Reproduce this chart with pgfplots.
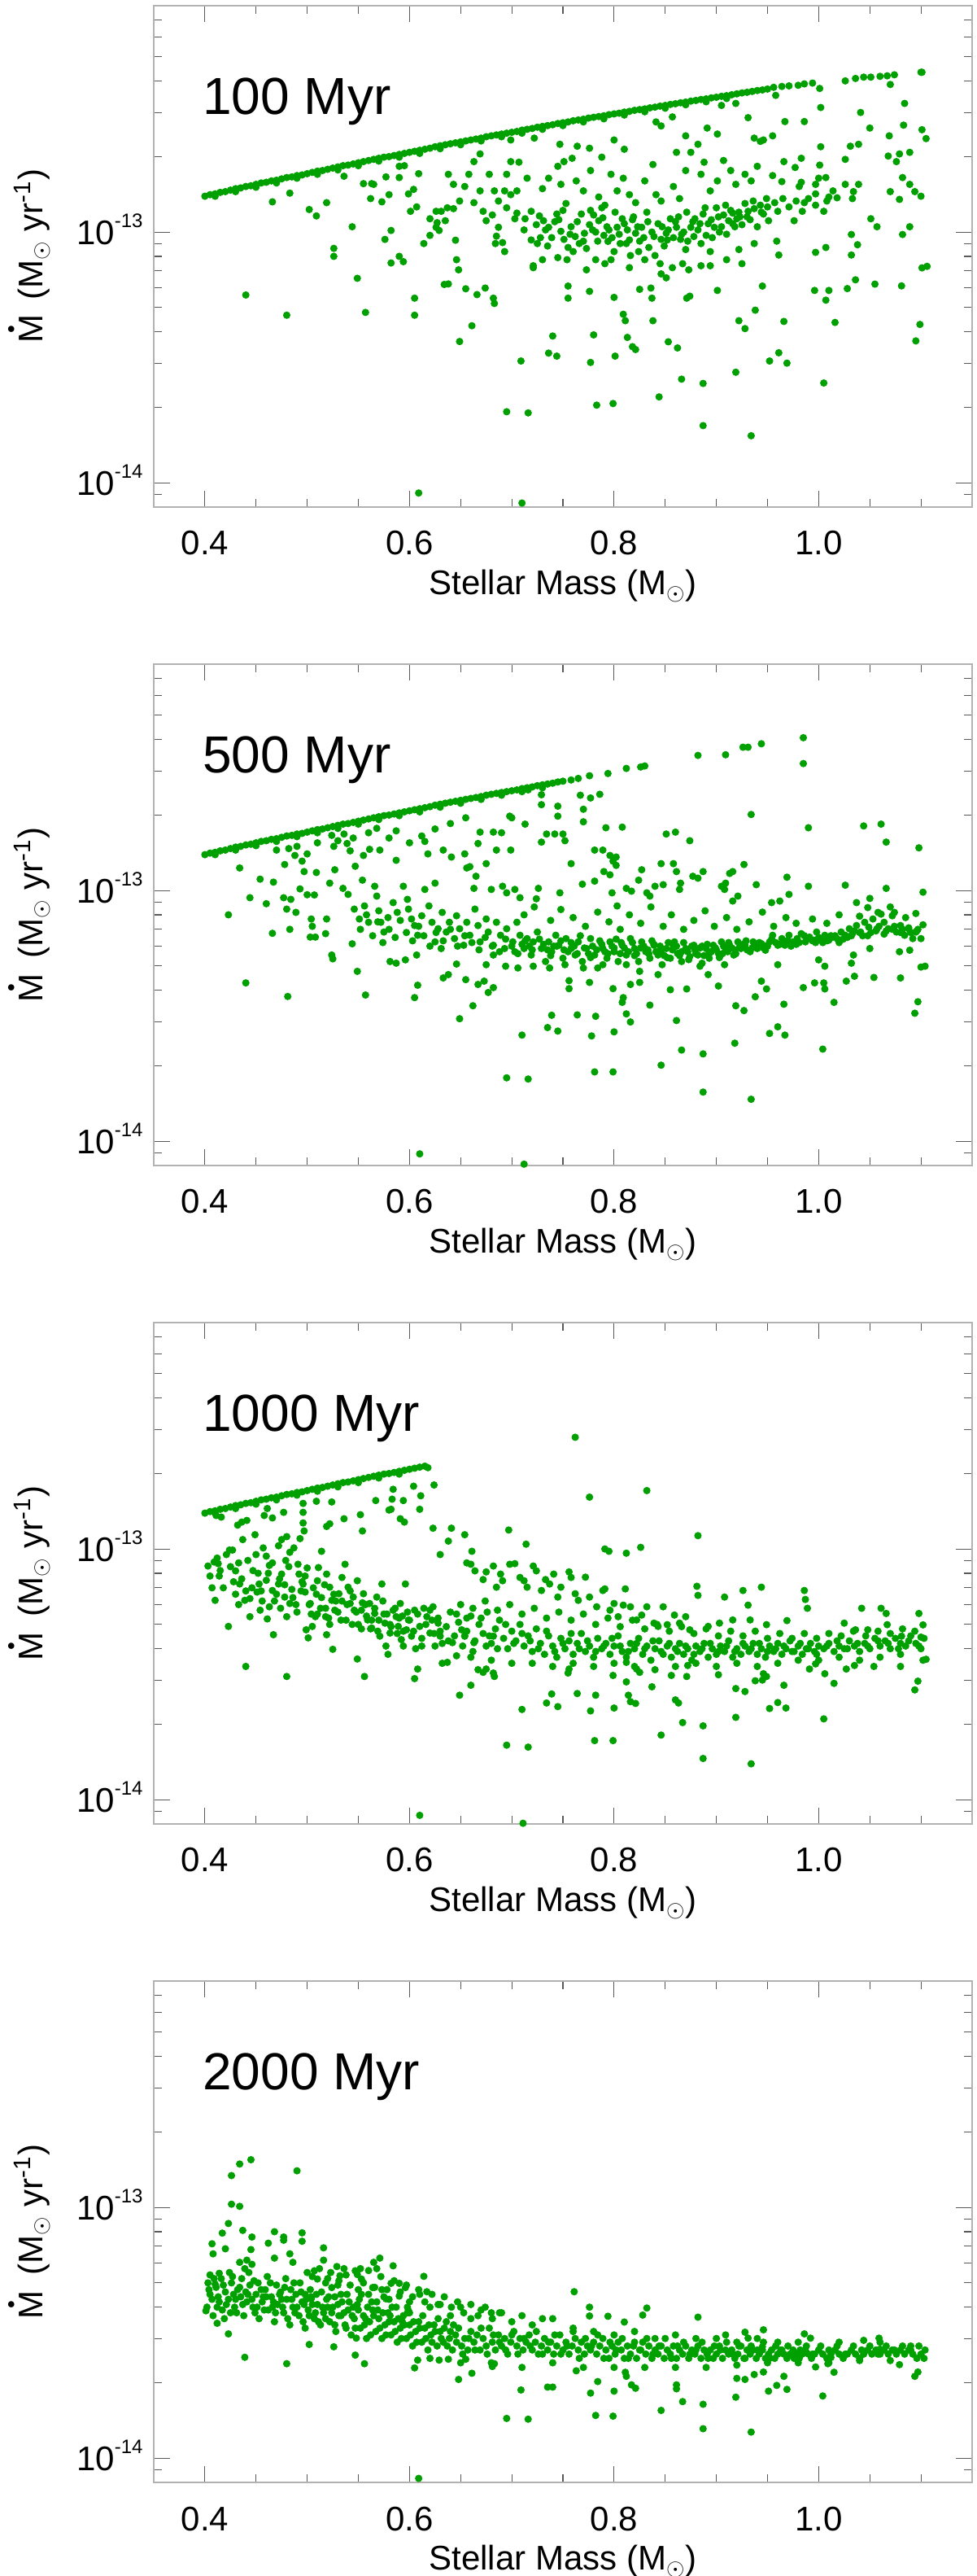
\documentclass[border=0pt]{standalone}
\usepackage{fontspec}
\setmainfont{Liberation Sans}
\usepackage{pgfplots}
\usepackage{pgfplotstable}
\pgfplotsset{compat=1.18}
\definecolor{dotgreen}{RGB}{0,160,0}
\pgfplotsset{
 every axis/.append style={
  scale only axis, width=503pt, height=308pt,
  xmin=0.35, xmax=1.15, ymin=0.08, ymax=8,
  xtick={0.4,0.6,0.8,1.0}, xticklabels={0.4,0.6,0.8,1.0},
  minor xtick={0.45,0.5,0.55,0.65,0.7,0.75,0.85,0.9,0.95,1.05,1.1},
  ytick={0.1,1},
  minor ytick={0.09,0.2,0.3,0.4,0.5,0.6,0.7,0.8,0.9,2,3,4,5,6,7},
  tick align=inside, major tick length=10pt, minor tick length=5pt,
  axis line style={draw=gray!60, line width=1pt},
  tick style={draw=black!65, line width=0.6pt},
  tick label style={font=\fontsize{21}{25}\selectfont},
  xticklabel style={anchor=base, inner sep=0pt, yshift=-29.5pt},
  yticklabel style={anchor=base east, inner sep=0pt, xshift=-6.5pt, yshift=-7.5pt},
  label style={font=\fontsize{21}{25}\selectfont},
  xlabel style={at={(axis description cs:0.5,-0.1753)}, anchor=base, inner sep=0pt},
  ylabel style={at={(axis description cs:-0.1352,0.5)}, anchor=base, inner sep=0pt},
 },
}
\newcommand{\Mdot}{\makebox[0pt][l]{\hspace{6.3pt}\raisebox{14.9pt}{\fontsize{14}{14}\selectfont\textbullet}}M}
\newcommand{\ylab}{\Mdot\hspace{0.45em}(M$_\odot$ yr\textsuperscript{-1})}
\newcommand{\xlab}{Stellar Mass (M$_\odot$)}
\newcommand{\ttl}[1]{\node[anchor=base west, inner sep=0pt, font=\fontsize{32}{38}\selectfont] at (rel axis cs:0.0596,0.784) {#1};}
\newcommand{\pdots}[1]{\addplot[only marks, mark=*, mark size=2.05pt, color=dotgreen] table {#1};}
\pgfplotstableread{
x y
0.400 1.39
0.405 1.41
0.410 1.42
0.415 1.44
0.420 1.45
0.425 1.47
0.430 1.49
0.435 1.50
0.440 1.52
0.445 1.53
0.450 1.55
0.455 1.57
0.460 1.58
0.465 1.60
0.470 1.61
0.475 1.63
0.480 1.65
0.485 1.66
0.490 1.68
0.495 1.69
0.500 1.71
0.505 1.73
0.510 1.75
0.515 1.76
0.520 1.78
0.525 1.80
0.530 1.82
0.535 1.84
0.540 1.85
0.545 1.87
0.550 1.89
0.555 1.91
0.560 1.93
0.565 1.95
0.570 1.97
0.575 1.99
0.580 2.00
0.585 2.02
0.590 2.04
0.595 2.06
0.600 2.08
0.605 2.10
0.610 2.12
0.615 2.14
0.620 2.16
0.625 2.19
0.630 2.21
0.635 2.23
0.640 2.25
0.645 2.27
0.650 2.29
0.655 2.31
0.660 2.33
0.665 2.35
0.670 2.37
0.675 2.40
0.680 2.42
0.685 2.44
0.690 2.46
0.695 2.48
0.700 2.50
0.705 2.52
0.710 2.55
0.715 2.57
0.720 2.59
0.725 2.62
0.730 2.64
0.735 2.66
0.740 2.68
0.745 2.71
0.750 2.73
0.755 2.75
0.760 2.78
0.765 2.80
0.770 2.82
0.775 2.85
0.780 2.87
0.785 2.89
0.790 2.91
0.795 2.94
0.800 2.96
0.805 2.98
0.810 3.01
0.815 3.03
0.820 3.06
0.825 3.08
0.830 3.10
0.835 3.13
0.840 3.15
0.845 3.18
0.850 3.20
0.855 3.23
0.860 3.25
0.865 3.28
0.870 3.30
0.875 3.33
0.880 3.35
0.885 3.38
0.890 3.40
0.895 3.43
0.900 3.45
0.905 3.48
0.910 3.50
0.915 3.53
0.920 3.56
0.925 3.59
0.930 3.61
0.935 3.64
0.940 3.67
0.945 3.69
0.950 3.72
}\envA
\pgfplotstableread{
x y
0.41 1.39
0.43 1.45
0.45 1.51
0.47 1.57
0.49 1.64
0.51 1.70
0.53 1.77
0.55 1.84
0.57 1.92
0.59 1.99
0.61 2.06
0.63 2.15
0.65 2.23
0.67 2.31
0.69 2.40
0.71 2.48
0.73 2.57
0.75 2.66
0.77 2.75
0.79 2.83
0.81 2.93
0.83 3.02
0.85 3.12
0.87 3.22
0.89 3.31
0.91 3.41
}\envB
\pgfplotstableread{
x y
0.440 0.561
0.480 0.466
0.466 1.32
0.483 1.43
0.502 1.23
0.509 1.16
0.519 1.31
0.526 0.861
0.526 0.80
0.544 1.05
0.549 0.654
0.557 0.478
0.555 1.56
0.563 1.56
0.536 1.67
0.562 1.36
0.573 1.32
0.576 0.935
0.582 1.015
0.582 0.753
0.594 0.762
0.590 0.80
0.599 1.42
0.604 1.48
0.605 0.545
0.605 0.466
0.590 1.65
0.595 1.84
0.609 1.71
0.620 1.13
0.626 1.045
0.629 1.015
0.631 1.21
0.637 1.25
0.634 0.618
0.638 0.621
0.645 0.928
0.646 0.776
0.648 0.707
0.649 0.366
0.655 0.594
0.661 0.423
0.666 0.563
0.674 0.598
0.682 0.545
0.683 0.519
0.638 1.70
0.643 1.55
0.663 1.91
0.669 2.05
0.678 1.70
0.683 1.46
0.687 1.33
0.699 2.33
0.699 1.91
0.707 1.90
0.685 0.963
0.691 0.908
0.695 1.25
0.703 1.13
0.709 0.306
0.695 0.192
0.716 0.190
0.722 2.37
0.721 0.734
0.725 0.90
0.736 0.329
0.744 0.320
0.740 0.385
0.747 2.24
0.751 1.91
0.755 0.609
0.755 0.545
0.764 2.20
0.776 0.580
0.777 0.302
0.780 0.389
0.783 0.204
0.788 1.99
0.800 0.549
0.799 0.207
0.801 0.320
0.809 0.470
0.811 0.443
0.810 2.14
0.813 0.380
0.818 0.349
0.821 0.340
0.825 0.591
0.836 0.598
0.837 0.545
0.838 0.443
0.844 0.220
0.853 0.365
0.862 0.345
0.866 0.259
0.871 0.545
0.874 0.555
0.887 0.249
0.887 0.169
0.901 0.585
0.919 0.276
0.934 0.154
0.922 0.443
0.928 0.412
0.938 0.488
0.945 0.609
0.952 0.306
0.705 1.19
0.713 1.13
0.719 1.21
0.724 1.07
0.731 1.11
0.736 1.045
0.744 1.18
0.748 1.007
0.751 0.935
0.755 0.868
0.760 0.836
0.766 0.90
0.771 0.989
0.776 1.07
0.780 1.17
0.785 1.11
0.790 0.97
0.794 0.918
0.800 0.836
0.803 1.045
0.808 1.13
0.812 0.90
0.816 0.806
0.821 0.989
0.827 1.045
0.834 0.868
0.840 0.806
0.845 0.748
0.846 0.935
0.851 0.989
0.855 1.13
0.861 1.045
0.865 0.935
0.870 0.852
0.875 1.045
0.879 1.13
0.885 0.90
0.890 0.97
0.894 0.836
0.898 1.045
0.902 1.15
0.907 1.17
0.912 1.11
0.916 1.19
0.920 1.13
0.925 1.07
0.931 1.21
0.937 1.24
0.943 1.28
0.949 1.36
0.715 1.64
0.730 1.49
0.736 1.64
0.745 1.83
0.748 1.55
0.763 1.60
0.770 1.46
0.777 1.76
0.785 1.38
0.791 1.28
0.797 1.70
0.803 1.46
0.809 1.64
0.815 1.41
0.821 1.31
0.830 1.60
0.838 1.86
0.841 1.41
0.846 1.33
0.858 1.52
0.864 1.36
0.870 1.76
0.875 2.08
0.885 1.70
0.888 1.90
0.894 1.46
0.901 1.60
0.907 1.93
0.914 1.76
0.919 1.55
0.928 1.70
0.934 1.60
0.940 1.83
0.946 2.33
0.841 2.75
0.846 2.65
0.857 2.88
0.861 2.08
0.870 2.42
0.882 2.24
0.891 2.60
0.901 2.46
0.905 3.20
0.919 3.26
0.931 2.86
0.937 2.37
0.943 2.30
0.759 1.97
0.776 2.16
0.800 2.33
0.721 0.721
0.730 0.776
0.745 0.791
0.754 0.776
0.773 0.707
0.782 0.776
0.791 0.748
0.797 0.776
0.815 0.721
0.824 0.836
0.830 0.776
0.846 0.681
0.851 0.657
0.857 0.721
0.867 0.748
0.873 0.707
0.885 0.734
0.894 0.734
0.910 0.776
0.925 0.748
0.937 0.90
0.922 0.852
0.565 1.55
0.577 1.66
0.580 1.41
0.590 1.83
0.601 1.21
0.607 1.26
0.614 0.90
0.620 0.97
0.626 1.21
0.627 1.09
0.635 1.11
0.643 1.24
0.649 1.33
0.654 1.52
0.658 1.70
0.663 1.31
0.669 1.46
0.672 1.21
0.675 1.11
0.681 1.17
0.687 1.045
0.693 1.46
0.695 1.70
0.699 1.41
0.705 1.46
0.684 0.90
0.693 0.836
0.728 0.95
0.735 0.88
0.742 1.10
0.750 1.22
0.758 1.05
0.762 0.96
0.768 1.18
0.773 0.86
0.779 1.02
0.784 0.92
0.788 1.25
0.793 1.05
0.798 0.95
0.805 0.98
0.810 1.08
0.815 0.93
0.819 1.15
0.823 1.05
0.829 0.95
0.832 1.20
0.837 1.00
0.843 1.08
0.849 0.88
0.853 1.02
0.858 0.95
0.863 1.15
0.868 1.00
0.872 0.92
0.877 1.10
0.882 1.02
0.887 1.18
0.892 1.08
0.896 0.95
0.900 1.25
0.905 1.05
0.910 0.98
0.914 1.22
0.918 1.05
0.923 1.15
0.928 1.30
0.933 1.12
0.940 1.05
0.946 1.18
0.609 0.091
0.710 0.083
0.956 3.78
0.964 3.81
0.971 3.83
0.980 3.85
0.986 3.90
0.994 3.93
1.001 3.74
1.026 4.01
1.036 4.10
1.044 4.15
1.051 4.15
1.060 4.18
1.067 4.20
1.074 4.24
1.100 4.34
1.101 4.34
0.958 3.51
1.070 3.88
1.002 3.14
1.084 3.26
1.041 3.00
1.050 2.60
1.083 2.67
1.101 2.56
1.105 2.36
0.967 2.76
0.986 2.76
0.955 2.42
1.002 2.19
1.031 2.20
1.039 2.24
1.026 1.95
1.069 2.42
1.068 2.01
1.079 2.05
1.089 2.08
1.076 1.91
0.966 1.91
0.983 1.97
1.001 1.85
0.977 1.81
0.955 1.68
0.983 1.58
0.997 1.55
1.007 1.65
1.026 1.55
1.039 1.55
1.014 1.46
1.018 1.37
1.034 1.45
1.033 1.36
1.070 1.45
1.079 1.35
1.094 1.45
1.100 1.39
1.082 1.65
1.089 1.55
1.051 1.13
1.057 1.05
1.089 1.05
1.082 0.978
1.032 0.978
1.038 0.89
1.032 0.81
1.007 0.868
0.997 0.83
1.101 0.72
1.106 0.73
1.055 0.62
1.036 0.645
1.028 0.595
1.081 0.61
1.010 0.585
1.007 0.535
0.996 0.585
1.016 0.436
1.099 0.428
1.095 0.368
1.005 0.25
0.961 0.33
0.969 0.30
0.966 0.44
0.959 0.92
0.961 0.81
0.957 1.31
0.965 1.36
0.971 1.26
0.978 1.33
0.986 1.31
0.990 1.36
0.997 1.42
0.984 1.21
0.960 1.21
0.976 1.11
0.951 1.11
0.997 1.28
1.000 1.64
0.981 1.52
0.964 1.59
1.005 1.21
1.008 1.33
1.010 1.38
0.712 1.02
0.719 0.93
0.727 1.16
0.733 1.02
0.739 0.95
0.746 1.12
0.753 1.30
0.757 0.98
0.764 1.10
0.770 0.92
0.777 1.22
0.782 1.00
0.789 1.14
0.795 1.02
0.801 1.20
0.806 0.90
0.813 1.02
0.818 1.12
0.825 0.92
0.833 1.10
0.839 0.96
0.847 1.05
0.852 0.93
0.860 1.10
0.866 0.98
0.871 1.20
0.878 0.96
0.884 1.08
0.889 1.25
0.895 1.12
0.903 1.00
0.909 1.28
0.916 1.08
0.922 1.20
0.930 1.15
0.936 1.33
0.944 1.20
0.950 1.26
}\pA
\pgfplotstableread{
x y
0.758 2.76
0.765 2.80
0.776 2.87
0.794 2.93
0.812 3.07
0.826 3.11
0.830 3.14
0.882 3.46
0.909 3.48
0.926 3.73
0.931 3.73
0.944 3.85
0.985 4.07
0.985 3.21
0.934 2.01
0.434 1.23
0.454 1.11
0.444 0.936
0.423 0.80
0.440 0.428
0.481 0.378
0.467 1.08
0.460 0.886
0.466 0.675
0.478 1.27
0.482 1.47
0.488 1.38
0.495 1.31
0.497 1.19
0.509 1.18
0.477 0.936
0.484 0.922
0.480 0.843
0.483 0.70
0.489 0.818
0.493 1.015
0.500 0.962
0.507 0.96
0.504 0.770
0.505 0.72
0.503 0.652
0.508 0.652
0.518 0.673
0.519 0.770
0.524 0.553
0.525 0.534
0.549 0.476
0.557 0.383
0.544 0.613
0.522 1.07
0.527 1.21
0.526 1.50
0.524 1.66
0.536 1.68
0.539 1.54
0.542 1.44
0.547 1.25
0.554 1.10
0.555 1.38
0.561 1.46
0.571 1.45
0.587 1.73
0.587 1.32
0.535 1.02
0.540 0.965
0.546 0.843
0.551 0.770
0.556 0.868
0.560 0.747
0.566 1.04
0.568 0.95
0.570 0.83
0.572 0.747
0.575 0.683
0.579 0.78
0.584 0.895
0.588 0.818
0.594 1.04
0.598 0.922
0.599 0.843
0.602 0.770
0.605 0.725
0.608 0.663
0.612 0.793
0.615 1.01
0.619 0.868
0.622 0.747
0.625 1.07
0.625 0.624
0.628 0.704
0.631 0.587
0.632 0.818
0.636 0.683
0.639 0.747
0.644 0.643
0.646 0.793
0.649 0.704
0.653 0.605
0.656 0.747
0.659 0.663
0.664 0.843
0.667 0.725
0.669 0.624
0.675 0.770
0.677 0.683
0.682 0.605
0.685 0.747
0.689 0.663
0.693 0.587
0.695 0.704
0.701 0.624
0.705 0.747
0.708 0.663
0.712 0.587
0.715 0.643
0.719 0.553
0.721 0.624
0.725 0.683
0.729 0.587
0.733 0.521
0.736 0.624
0.739 0.570
0.743 0.663
0.746 0.605
0.750 0.537
0.753 0.643
0.758 0.587
0.762 0.553
0.765 0.624
0.769 0.521
0.773 0.587
0.777 0.643
0.781 0.553
0.784 0.491
0.789 0.587
0.793 0.537
0.796 0.624
0.800 0.570
0.804 0.521
0.808 0.605
0.812 0.553
0.816 0.643
0.820 0.587
0.824 0.521
0.827 0.624
0.831 0.570
0.835 0.537
0.839 0.605
0.843 0.553
0.847 0.506
0.851 0.587
0.855 0.537
0.859 0.624
0.862 0.561
0.866 0.521
0.870 0.587
0.874 0.545
0.878 0.605
0.882 0.553
0.886 0.513
0.890 0.587
0.893 0.537
0.897 0.605
0.902 0.561
0.905 0.624
0.909 0.578
0.913 0.605
0.917 0.553
0.921 0.624
0.924 0.587
0.928 0.605
0.933 0.570
0.936 0.624
0.940 0.587
0.944 0.614
0.948 0.578
0.952 0.624
0.955 0.663
0.960 0.605
0.964 0.643
0.967 0.605
0.971 0.663
0.975 0.624
0.979 0.643
0.983 0.673
0.987 0.624
0.991 0.652
0.995 0.634
0.998 0.683
1.002 0.643
1.006 0.663
1.010 0.634
1.014 0.652
1.018 0.643
1.022 0.683
1.026 0.663
1.030 0.704
1.033 0.673
1.037 0.725
1.041 0.683
1.045 0.747
1.049 0.714
1.053 0.770
1.057 0.704
1.061 0.805
1.064 0.747
1.068 0.704
1.072 0.793
1.076 0.683
1.080 0.725
1.084 0.663
1.088 0.704
1.092 0.643
1.095 0.683
1.100 0.643
1.102 0.73
1.104 0.499
1.100 0.495
0.703 0.57
0.710 0.61
0.717 0.60
0.727 0.64
0.735 0.58
0.741 0.60
0.748 0.63
0.755 0.57
0.761 0.60
0.767 0.66
0.775 0.56
0.779 0.60
0.786 0.63
0.791 0.57
0.798 0.60
0.802 0.64
0.806 0.56
0.810 0.59
0.818 0.62
0.822 0.56
0.829 0.60
0.833 0.58
0.837 0.63
0.841 0.57
0.845 0.60
0.849 0.55
0.853 0.62
0.857 0.58
0.861 0.60
0.864 0.55
0.868 0.62
0.872 0.57
0.876 0.60
0.880 0.56
0.884 0.59
0.888 0.55
0.891 0.61
0.895 0.57
0.899 0.59
0.903 0.54
0.907 0.60
0.911 0.57
0.915 0.59
0.919 0.56
0.926 0.61
0.930 0.58
0.938 0.60
0.946 0.59
0.950 0.60
0.958 0.62
0.966 0.63
0.973 0.60
0.981 0.62
0.989 0.64
0.997 0.62
1.004 0.62
1.012 0.66
1.020 0.62
1.028 0.65
1.035 0.69
1.043 0.66
1.051 0.68
1.059 0.72
1.066 0.69
1.074 0.72
1.082 0.70
1.090 0.68
1.097 0.70
0.568 1.77
0.615 1.57
0.625 1.76
0.618 1.40
0.633 1.45
0.641 1.36
0.654 1.40
0.659 1.245
0.667 1.54
0.669 1.71
0.682 1.71
0.656 1.23
0.675 1.28
0.685 1.45
0.699 1.45
0.698 1.98
0.700 1.95
0.713 1.84
0.716 2.52
0.729 2.41
0.729 2.20
0.729 1.56
0.734 1.68
0.742 1.68
0.745 2.17
0.745 1.98
0.750 1.68
0.752 1.58
0.758 1.28
0.767 2.40
0.777 2.34
0.786 2.42
0.770 2.11
0.770 1.88
0.792 1.78
0.808 1.79
0.781 1.45
0.789 1.45
0.796 1.38
0.799 1.31
0.802 1.26
0.802 1.36
0.790 1.19
0.769 1.06
0.781 1.09
0.726 1.02
0.747 0.979
0.724 0.927
0.708 0.936
0.703 1.01
0.680 1.01
0.691 1.04
0.695 0.979
0.665 1.14
0.663 1.02
0.851 1.68
0.860 1.71
0.846 1.28
0.858 1.28
0.874 1.58
0.827 1.21
0.824 1.10
0.812 1.02
0.817 0.994
0.832 0.979
0.835 0.950
0.796 1.155
0.798 0.979
0.803 0.868
0.840 1.04
0.848 1.055
0.865 1.07
0.877 1.14
0.882 1.12
0.905 1.04
0.909 1.07
0.913 1.17
0.916 1.19
0.927 1.27
0.939 1.055
0.954 0.895
0.962 0.908
0.969 1.13
0.971 0.965
0.990 1.04
0.990 1.78
1.026 1.05
1.044 1.81
1.061 1.84
1.066 1.56
1.066 1.02
1.098 1.48
1.102 0.985
1.037 0.895
1.050 0.93
1.048 0.855
1.058 0.818
1.074 0.818
0.861 1.19
0.887 1.19
0.916 0.908
0.921 0.95
0.864 1.01
0.908 1.01
0.712 0.80
0.722 0.86
0.738 0.76
0.748 0.84
0.760 0.78
0.772 0.72
0.784 0.82
0.795 0.75
0.806 0.70
0.815 0.80
0.826 0.74
0.836 0.86
0.848 0.72
0.856 0.80
0.868 0.70
0.878 0.76
0.889 0.83
0.898 0.72
0.910 0.78
0.920 0.70
0.932 0.75
0.945 0.82
0.956 0.72
0.968 0.78
0.978 0.74
0.994 0.77
1.008 0.74
1.020 0.80
1.040 0.79
1.070 0.86
1.085 0.78
1.095 0.81
0.581 0.521
0.587 0.513
0.596 0.529
0.607 0.553
0.605 0.374
0.608 0.419
0.633 0.448
0.638 0.462
0.646 0.509
0.649 0.308
0.655 0.441
0.662 0.347
0.667 0.422
0.673 0.435
0.677 0.392
0.682 0.410
0.710 0.265
0.695 0.179
0.716 0.177
0.735 0.284
0.739 0.318
0.745 0.275
0.756 0.437
0.756 0.406
0.764 0.319
0.776 0.43
0.778 0.263
0.782 0.315
0.781 0.189
0.799 0.189
0.800 0.273
0.799 0.406
0.808 0.358
0.812 0.322
0.816 0.299
0.809 0.374
0.816 0.422
0.825 0.43
0.835 0.349
0.846 0.201
0.855 0.402
0.861 0.303
0.866 0.231
0.871 0.405
0.887 0.223
0.887 0.157
0.902 0.416
0.919 0.347
0.927 0.332
0.918 0.246
0.934 0.147
0.938 0.377
0.944 0.435
0.949 0.405
0.952 0.269
0.960 0.286
0.967 0.265
0.966 0.352
0.985 0.41
0.996 0.428
1.005 0.428
1.006 0.405
1.004 0.233
1.015 0.358
1.027 0.435
1.035 0.455
1.054 0.45
1.080 0.448
1.094 0.324
1.097 0.36
0.610 0.089
0.712 0.081
0.884 0.499
0.892 0.462
0.908 0.506
0.960 0.506
1.000 0.529
1.006 0.499
1.032 0.513
1.034 0.553
1.050 0.587
1.079 0.570
1.089 0.578
0.812 0.506
0.825 0.476
0.843 0.462
0.789 0.506
0.770 0.491
0.752 0.506
0.737 0.491
0.721 0.499
0.706 0.491
0.694 0.499
0.682 0.553
0.675 0.506
0.470 1.45
0.490 1.50
0.510 1.55
0.530 1.58
0.500 1.40
0.545 1.62
0.560 1.70
0.580 1.62
0.600 1.55
0.612 1.65
0.640 1.85
0.655 1.95
0.690 1.70
0.552 0.70
0.558 0.80
0.564 0.66
0.569 0.75
0.574 0.62
0.580 0.70
0.586 0.65
0.591 0.76
0.597 0.68
0.603 0.63
0.609 0.72
0.614 0.66
0.620 0.60
0.626 0.68
0.633 0.63
0.640 0.70
0.647 0.60
0.654 0.66
0.661 0.62
0.668 0.58
0.674 0.65
0.681 0.60
0.688 0.57
0.694 0.64
0.700 0.60
0.706 0.56
0.713 0.63
0.720 0.58
0.731 0.61
0.738 0.55
0.744 0.60
0.751 0.58
0.758 0.62
0.764 0.56
0.771 0.59
0.777 0.54
0.783 0.58
0.788 0.61
0.794 0.56
0.800 0.59
0.807 0.62
0.814 0.57
0.820 0.55
0.826 0.59
0.834 0.56
0.839 0.61
0.846 0.57
0.852 0.54
0.858 0.60
0.866 0.57
0.873 0.53
0.879 0.58
0.886 0.60
0.893 0.56
0.900 0.58
0.906 0.56
0.912 0.62
0.918 0.58
0.923 0.60
0.929 0.63
0.935 0.59
0.942 0.62
0.948 0.60
0.954 0.64
0.962 0.61
0.970 0.63
0.978 0.61
0.986 0.66
0.994 0.63
1.000 0.65
1.008 0.63
1.016 0.66
1.024 0.64
1.032 0.66
1.040 0.68
1.048 0.66
1.056 0.69
1.064 0.67
1.072 0.70
1.080 0.68
1.088 0.71
1.096 0.69
}\pB
\pgfplotstableread{
x y
0.618 2.11
0.762 2.79
0.776 1.61
0.832 1.71
0.882 1.13
0.791 1.00
0.795 0.979
0.812 0.962
0.826 1.015
0.697 1.19
0.714 1.045
0.624 1.80
0.611 1.63
0.610 1.44
0.604 1.78
0.594 1.56
0.584 1.73
0.583 1.58
0.582 1.44
0.591 1.32
0.595 1.28
0.580 1.43
0.567 1.56
0.552 1.37
0.554 1.18
0.536 1.32
0.524 1.54
0.522 1.26
0.519 1.23
0.509 1.55
0.496 1.52
0.496 1.40
0.496 1.27
0.497 1.18
0.477 1.40
0.466 1.33
0.461 1.45
0.458 1.36
0.441 1.30
0.436 1.28
0.432 1.245
0.416 1.34
0.411 1.36
0.437 1.09
0.449 1.14
0.427 0.99
0.424 0.99
0.430 0.818
0.414 0.78
0.403 0.855
0.409 0.887
0.413 0.874
0.410 0.624
0.434 0.725
0.433 0.60
0.439 0.624
0.444 0.634
0.453 0.725
0.451 0.673
0.454 0.57
0.444 0.537
0.423 0.491
0.440 0.34
0.480 0.31
0.467 0.455
0.461 0.526
0.463 0.588
0.460 0.936
0.457 1.01
0.463 0.86
0.466 0.683
0.472 0.725
0.475 0.794
0.478 0.643
0.480 0.537
0.483 0.606
0.475 1.09
0.472 1.03
0.483 0.97
0.493 1.10
0.480 1.12
0.487 1.01
0.491 0.869
0.492 0.794
0.496 0.725
0.498 0.673
0.503 0.606
0.499 0.476
0.501 0.442
0.505 0.491
0.508 0.537
0.510 0.747
0.511 0.843
0.514 0.979
0.519 0.794
0.522 0.704
0.524 0.624
0.519 0.455
0.518 0.537
0.527 0.57
0.525 0.398
0.531 0.663
0.534 0.77
0.537 0.869
0.540 0.704
0.542 0.606
0.545 0.643
0.549 0.364
0.549 0.747
0.553 0.57
0.556 0.31
0.555 0.663
0.559 0.521
0.561 0.606
0.563 0.484
0.566 0.553
0.568 0.643
0.571 0.449
0.573 0.725
0.576 0.506
0.577 0.41
0.579 0.38
0.581 0.462
0.584 0.57
0.587 0.537
0.589 0.491
0.591 0.606
0.592 0.435
0.594 0.41
0.596 0.725
0.597 0.476
0.599 0.521
0.602 0.449
0.605 0.57
0.605 0.304
0.608 0.332
0.610 0.491
0.612 0.41
0.617 0.537
0.620 0.462
0.623 0.588
0.625 0.41
0.628 0.506
0.630 0.449
0.632 0.35
0.637 0.353
0.642 0.423
0.646 0.375
0.649 0.261
0.651 0.476
0.654 0.449
0.656 0.53
0.660 0.286
0.663 0.423
0.667 0.33
0.672 0.322
0.675 0.332
0.682 0.32
0.683 0.31
0.675 0.41
0.682 0.449
0.695 0.165
0.716 0.162
0.710 0.229
0.734 0.243
0.739 0.264
0.745 0.235
0.755 0.32
0.756 0.332
0.764 0.265
0.777 0.226
0.782 0.261
0.781 0.172
0.799 0.172
0.800 0.232
0.799 0.313
0.812 0.295
0.814 0.261
0.816 0.246
0.821 0.242
0.812 0.353
0.822 0.332
0.825 0.322
0.837 0.282
0.846 0.181
0.856 0.313
0.860 0.25
0.863 0.243
0.867 0.203
0.871 0.31
0.872 0.343
0.887 0.197
0.887 0.146
0.902 0.315
0.919 0.2775
0.928 0.27
0.919 0.213
0.934 0.139
0.938 0.298
0.946 0.318
0.949 0.31
0.945 0.30
0.952 0.231
0.960 0.244
0.968 0.232
0.966 0.286
0.991 0.332
0.997 0.348
1.005 0.21
1.006 0.318
1.015 0.291
1.027 0.332
1.035 0.343
1.054 0.34
1.080 0.34
1.094 0.274
1.097 0.297
1.102 0.36
1.105 0.363
0.610 0.0866
0.711 0.0805
0.600 0.52
0.604 0.47
0.608 0.55
0.612 0.44
0.616 0.50
0.620 0.57
0.624 0.46
0.628 0.53
0.632 0.42
0.636 0.49
0.640 0.56
0.644 0.45
0.648 0.51
0.652 0.41
0.656 0.47
0.660 0.54
0.664 0.43
0.668 0.50
0.672 0.46
0.676 0.56
0.680 0.42
0.684 0.48
0.688 0.52
0.692 0.44
0.696 0.40
0.700 0.47
0.704 0.43
0.708 0.50
0.712 0.41
0.716 0.45
0.720 0.39
0.724 0.48
0.728 0.42
0.732 0.38
0.736 0.45
0.740 0.41
0.744 0.37
0.748 0.44
0.752 0.40
0.756 0.43
0.760 0.38
0.764 0.42
0.768 0.46
0.772 0.39
0.776 0.41
0.780 0.37
0.784 0.44
0.788 0.40
0.792 0.42
0.796 0.38
0.800 0.41
0.804 0.45
0.808 0.39
0.812 0.37
0.816 0.42
0.820 0.40
0.824 0.44
0.828 0.38
0.832 0.41
0.836 0.36
0.840 0.40
0.844 0.43
0.848 0.38
0.852 0.41
0.856 0.37
0.860 0.40
0.864 0.42
0.868 0.38
0.872 0.40
0.876 0.36
0.880 0.41
0.884 0.39
0.888 0.42
0.892 0.37
0.896 0.40
0.900 0.38
0.904 0.41
0.908 0.39
0.912 0.43
0.916 0.37
0.920 0.40
0.924 0.38
0.928 0.41
0.932 0.39
0.936 0.42
0.940 0.38
0.944 0.40
0.948 0.37
0.952 0.41
0.956 0.39
0.960 0.42
0.964 0.38
0.968 0.40
0.972 0.43
0.976 0.39
0.980 0.41
0.984 0.38
0.988 0.40
0.992 0.42
0.996 0.39
1.000 0.41
1.005 0.40
1.010 0.42
1.015 0.39
1.020 0.41
1.025 0.40
1.030 0.43
1.035 0.41
1.040 0.39
1.045 0.42
1.050 0.40
1.055 0.44
1.060 0.41
1.065 0.43
1.070 0.40
1.075 0.44
1.080 0.42
1.085 0.41
1.090 0.45
1.095 0.42
1.100 0.40
1.103 0.44
0.650 0.60
0.662 0.58
0.674 0.62
0.686 0.57
0.698 0.60
0.710 0.55
0.722 0.58
0.734 0.53
0.746 0.56
0.758 0.52
0.770 0.55
0.782 0.50
0.794 0.53
0.806 0.49
0.818 0.52
0.830 0.48
0.842 0.50
0.854 0.47
0.866 0.49
0.878 0.46
0.890 0.48
0.902 0.45
0.914 0.47
0.926 0.45
0.938 0.47
0.950 0.44
0.962 0.46
0.974 0.44
0.986 0.46
0.998 0.44
1.010 0.46
1.022 0.45
1.034 0.47
1.046 0.45
1.058 0.47
1.070 0.46
1.082 0.48
1.094 0.47
0.66 0.37
0.68 0.36
0.70 0.35
0.72 0.35
0.74 0.34
0.76 0.35
0.78 0.34
0.80 0.35
0.82 0.34
0.84 0.33
0.86 0.34
0.88 0.35
0.90 0.34
0.92 0.35
0.94 0.34
0.96 0.35
0.98 0.36
1.00 0.36
1.02 0.37
1.04 0.36
1.06 0.37
1.08 0.38
0.623 1.21
0.630 0.95
0.638 1.075
0.641 1.21
0.654 1.14
0.656 0.88
0.660 0.869
0.661 0.979
0.664 0.818
0.672 0.755
0.675 0.81
0.682 0.855
0.685 0.704
0.689 0.794
0.691 0.747
0.698 0.869
0.703 0.874
0.708 0.77
0.712 0.747
0.715 0.704
0.721 0.855
0.724 0.818
0.729 0.683
0.733 0.755
0.737 0.725
0.741 0.794
0.745 0.643
0.748 0.704
0.756 0.81
0.758 0.77
0.762 0.663
0.765 0.624
0.772 0.772
0.776 0.643
0.783 0.588
0.789 0.683
0.791 0.693
0.796 0.57
0.800 0.606
0.804 0.537
0.809 0.597
0.811 0.693
0.816 0.588
0.822 0.521
0.827 0.545
0.832 0.588
0.839 0.506
0.843 0.491
0.848 0.588
0.852 0.499
0.859 0.545
0.864 0.506
0.870 0.537
0.874 0.476
0.881 0.71
0.882 0.653
0.892 0.491
0.903 0.506
0.908 0.643
0.916 0.521
0.926 0.683
0.931 0.597
0.933 0.521
0.944 0.704
0.949 0.499
0.969 0.518
0.986 0.683
0.987 0.629
0.989 0.58
1.025 0.506
1.036 0.476
1.042 0.58
1.048 0.476
1.061 0.58
1.066 0.553
1.067 0.499
1.081 0.449
1.098 0.553
1.102 0.498
1.100 0.445
0.405 0.78
0.412 0.92
0.418 0.70
0.425 0.85
0.430 0.66
0.436 0.76
0.442 0.90
0.446 0.70
0.452 0.80
0.456 0.62
0.460 0.75
0.466 0.88
0.470 0.66
0.474 0.58
0.478 0.72
0.482 0.85
0.486 0.64
0.490 0.56
0.494 0.68
0.498 0.78
0.502 0.60
0.506 0.70
0.510 0.55
0.514 0.64
0.518 0.58
0.522 0.50
0.526 0.66
0.530 0.56
0.534 0.62
0.538 0.52
0.542 0.68
0.546 0.57
0.550 0.50
0.554 0.61
0.558 0.54
0.562 0.48
0.566 0.58
0.570 0.52
0.574 0.62
0.578 0.55
0.582 0.49
0.586 0.58
0.590 0.53
0.594 0.47
0.598 0.56
0.606 0.40
0.614 0.58
0.622 0.52
0.630 0.47
0.638 0.43
0.646 0.55
0.654 0.45
0.662 0.39
0.670 0.53
0.678 0.45
0.686 0.40
0.694 0.50
0.702 0.42
0.710 0.46
0.718 0.43
0.726 0.40
0.734 0.47
0.742 0.39
0.750 0.42
0.758 0.46
0.766 0.40
0.774 0.43
0.782 0.39
0.790 0.41
0.798 0.44
0.806 0.41
0.814 0.39
0.822 0.42
0.830 0.40
0.838 0.43
0.846 0.39
0.854 0.42
0.862 0.39
0.870 0.41
0.878 0.38
0.886 0.40
0.894 0.42
0.902 0.39
0.910 0.41
0.918 0.39
0.926 0.42
0.934 0.40
0.942 0.42
0.950 0.39
0.958 0.40
0.966 0.41
0.974 0.39
0.982 0.42
0.990 0.40
0.998 0.38
1.008 0.41
1.018 0.43
1.028 0.40
1.038 0.42
1.048 0.41
1.058 0.43
1.068 0.42
1.078 0.40
1.088 0.43
1.098 0.41
0.407 0.70
0.415 0.82
0.421 0.95
0.428 0.74
0.433 0.88
0.440 0.68
0.447 0.82
0.450 0.95
0.455 0.68
0.462 0.80
0.468 0.62
0.473 0.76
0.479 0.90
0.485 0.69
0.489 0.60
0.495 0.74
0.500 0.84
0.504 0.55
0.509 0.66
0.513 0.58
0.517 0.72
0.521 0.53
0.528 0.62
0.533 0.52
0.539 0.60
0.544 0.50
0.548 0.56
0.553 0.48
0.557 0.60
0.563 0.52
0.569 0.47
0.575 0.55
0.581 0.50
0.588 0.46
0.593 0.54
}\pC
\pgfplotstableread{
x y
0.426 1.34
0.434 1.49
0.445 1.55
0.490 1.40
0.426 1.03
0.434 1.01
0.423 0.863
0.417 0.79
0.437 0.81
0.446 0.762
0.445 0.679
0.407 0.716
0.408 0.653
0.420 0.684
0.434 0.604
0.468 0.80
0.477 0.762
0.477 0.74
0.495 0.792
0.495 0.733
0.462 0.72
0.468 0.628
0.441 0.616
0.446 0.593
0.483 0.653
0.486 0.604
0.516 0.69
0.516 0.616
0.584 0.585
0.614 0.531
0.405 0.538
0.410 0.494
0.414 0.546
0.401 0.387
0.412 0.345
0.423 0.313
0.439 0.2525
0.480 0.238
0.648 0.206
0.661 0.218
0.605 0.229
0.608 0.246
0.629 0.246
0.638 0.248
0.655 0.248
0.683 0.238
0.681 0.232
0.709 0.187
0.695 0.144
0.716 0.143
0.735 0.192
0.740 0.192
0.763 0.223
0.777 0.1817
0.782 0.148
0.784 0.202
0.799 0.147
0.800 0.185
0.812 0.212
0.817 0.196
0.821 0.190
0.811 0.22
0.846 0.155
0.861 0.196
0.861 0.189
0.867 0.168
0.887 0.164
0.887 0.131
0.919 0.175
0.934 0.127
0.920 0.208
0.928 0.206
0.937 0.2155
0.946 0.2205
0.951 0.185
0.959 0.195
0.969 0.188
0.966 0.212
1.004 0.177
0.997 0.231
1.009 0.238
1.015 0.22
1.012 0.252
1.094 0.212
1.097 0.2205
1.079 0.236
0.609 0.083
0.761 0.461
0.776 0.40
0.776 0.369
0.794 0.368
0.810 0.349
0.832 0.397
0.828 0.372
0.882 0.365
0.986 0.313
0.992 0.301
0.946 0.325
0.945 0.278
0.909 0.31
0.928 0.318
0.931 0.301
1.044 0.295
1.059 0.301
1.060 0.272
0.565 0.604
0.568 0.57
0.547 0.559
0.553 0.518
0.564 0.479
0.538 0.538
0.529 0.581
0.532 0.534
0.524 0.479
0.510 0.518
0.507 0.559
0.504 0.432
0.498 0.45
0.502 0.284
0.526 0.278
0.547 0.2575
0.548 0.301
0.556 0.238
0.577 0.432
0.596 0.479
0.590 0.443
0.617 0.461
0.599 0.387
0.552 0.57
0.571 0.628
0.582 0.498
0.590 0.498
0.573 0.47
0.50 0.55
0.52 0.52
0.53 0.49
0.55 0.47
0.56 0.45
0.58 0.43
0.60 0.42
0.61 0.45
0.63 0.41
0.65 0.40
0.67 0.39
0.69 0.38
0.71 0.37
0.73 0.36
0.60 0.38
0.62 0.40
0.64 0.37
0.66 0.36
0.68 0.38
0.70 0.35
0.72 0.34
0.74 0.36
0.76 0.33
0.78 0.32
0.80 0.31
0.82 0.32
0.84 0.30
0.86 0.31
0.88 0.30
0.90 0.30
0.92 0.29
0.94 0.30
0.96 0.29
0.98 0.29
1.02 0.29
1.06 0.29
1.09 0.28
0.62 0.25
0.65 0.24
0.68 0.24
0.71 0.23
0.74 0.24
0.77 0.23
0.80 0.23
0.83 0.23
0.86 0.23
0.89 0.23
0.92 0.235
0.95 0.24
0.98 0.24
1.01 0.24
1.04 0.245
1.07 0.245
0.402 0.40
0.405 0.45
0.408 0.37
0.411 0.48
0.414 0.42
0.417 0.39
0.420 0.46
0.423 0.43
0.426 0.50
0.429 0.40
0.432 0.47
0.435 0.44
0.438 0.37
0.441 0.42
0.444 0.49
0.447 0.40
0.450 0.45
0.453 0.36
0.456 0.42
0.459 0.47
0.462 0.39
0.465 0.44
0.468 0.35
0.471 0.41
0.474 0.46
0.477 0.38
0.480 0.43
0.483 0.34
0.486 0.40
0.489 0.45
0.492 0.37
0.495 0.42
0.498 0.33
0.501 0.39
0.504 0.44
0.507 0.36
0.510 0.41
0.513 0.34
0.516 0.38
0.519 0.43
0.522 0.35
0.525 0.40
0.528 0.32
0.531 0.37
0.534 0.42
0.537 0.34
0.540 0.39
0.543 0.31
0.546 0.36
0.549 0.41
0.552 0.33
0.555 0.37
0.558 0.30
0.561 0.35
0.564 0.39
0.567 0.32
0.570 0.36
0.573 0.30
0.576 0.34
0.579 0.38
0.582 0.31
0.585 0.35
0.588 0.29
0.591 0.33
0.594 0.37
0.597 0.30
0.600 0.34
0.603 0.28
0.606 0.32
0.609 0.35
0.612 0.29
0.615 0.33
0.618 0.27
0.621 0.31
0.624 0.34
0.627 0.28
0.630 0.32
0.633 0.29
0.636 0.35
0.639 0.30
0.642 0.27
0.645 0.31
0.648 0.33
0.651 0.28
0.654 0.30
0.657 0.27
0.660 0.32
0.663 0.29
0.666 0.31
0.669 0.27
0.672 0.30
0.675 0.28
0.678 0.33
0.681 0.29
0.684 0.27
0.687 0.31
0.690 0.28
0.693 0.30
0.696 0.26
0.699 0.29
0.702 0.32
0.705 0.28
0.708 0.30
0.711 0.27
0.714 0.29
0.717 0.31
0.720 0.27
0.723 0.29
0.726 0.26
0.729 0.28
0.732 0.30
0.735 0.27
0.738 0.29
0.741 0.26
0.744 0.28
0.747 0.31
0.750 0.27
0.753 0.29
0.756 0.26
0.759 0.28
0.762 0.30
0.765 0.27
0.768 0.29
0.771 0.26
0.774 0.28
0.777 0.27
0.780 0.29
0.783 0.26
0.786 0.28
0.789 0.30
0.792 0.27
0.795 0.25
0.798 0.28
0.801 0.26
0.804 0.29
0.807 0.27
0.810 0.25
0.813 0.28
0.816 0.26
0.819 0.28
0.822 0.25
0.825 0.27
0.828 0.29
0.831 0.26
0.834 0.28
0.837 0.25
0.840 0.27
0.843 0.26
0.846 0.28
0.849 0.25
0.852 0.27
0.855 0.26
0.858 0.28
0.861 0.25
0.864 0.27
0.867 0.26
0.870 0.28
0.873 0.25
0.876 0.27
0.879 0.26
0.882 0.28
0.885 0.25
0.888 0.27
0.891 0.26
0.894 0.27
0.897 0.25
0.900 0.26
0.903 0.28
0.906 0.25
0.909 0.27
0.912 0.26
0.915 0.27
0.918 0.25
0.921 0.26
0.924 0.28
0.927 0.25
0.930 0.27
0.933 0.26
0.936 0.27
0.939 0.25
0.942 0.26
0.945 0.27
0.948 0.25
0.951 0.26
0.954 0.27
0.957 0.25
0.960 0.26
0.963 0.27
0.966 0.26
0.969 0.25
0.972 0.26
0.975 0.27
0.978 0.26
0.981 0.25
0.984 0.26
0.987 0.27
0.990 0.26
0.993 0.25
0.996 0.26
1.000 0.27
1.004 0.26
1.008 0.25
1.012 0.26
1.016 0.27
1.020 0.26
1.024 0.25
1.028 0.26
1.032 0.27
1.036 0.26
1.040 0.25
1.044 0.26
1.048 0.27
1.052 0.26
1.056 0.27
1.060 0.26
1.064 0.27
1.068 0.26
1.072 0.27
1.076 0.26
1.080 0.27
1.084 0.26
1.088 0.27
1.092 0.26
1.096 0.25
1.100 0.26
1.103 0.25
0.403 0.50
0.407 0.43
0.412 0.40
0.416 0.52
0.419 0.36
0.424 0.55
0.428 0.45
0.431 0.38
0.436 0.52
0.440 0.46
0.443 0.55
0.449 0.38
0.452 0.50
0.457 0.44
0.461 0.53
0.466 0.40
0.470 0.49
0.475 0.43
0.479 0.52
0.484 0.47
0.488 0.38
0.493 0.50
0.497 0.41
0.503 0.47
0.508 0.38
0.514 0.46
0.520 0.40
0.527 0.44
0.533 0.37
0.539 0.45
0.545 0.40
0.551 0.43
0.557 0.36
0.563 0.42
0.569 0.39
0.575 0.44
0.581 0.37
0.587 0.40
0.593 0.35
0.598 0.40
0.404 0.47
0.409 0.52
0.413 0.44
0.418 0.49
0.421 0.41
0.425 0.38
0.427 0.53
0.430 0.43
0.434 0.48
0.437 0.41
0.439 0.57
0.442 0.45
0.446 0.43
0.448 0.51
0.451 0.40
0.455 0.47
0.458 0.39
0.460 0.44
0.464 0.50
0.467 0.42
0.469 0.38
0.473 0.45
0.476 0.40
0.478 0.48
0.481 0.36
0.485 0.43
0.487 0.50
0.490 0.40
0.494 0.46
0.496 0.35
0.499 0.43
0.502 0.37
0.505 0.41
0.509 0.45
0.511 0.35
0.515 0.40
0.518 0.36
0.521 0.44
0.524 0.38
0.527 0.34
0.530 0.41
0.533 0.45
0.536 0.38
0.538 0.33
0.541 0.42
0.544 0.37
0.547 0.33
0.550 0.39
0.553 0.45
0.556 0.34
0.559 0.40
0.562 0.31
0.565 0.37
0.568 0.42
0.571 0.33
0.574 0.38
0.577 0.31
0.580 0.35
0.583 0.40
0.586 0.32
0.589 0.36
0.592 0.30
0.595 0.34
0.598 0.38
0.601 0.31
0.604 0.35
0.607 0.29
0.610 0.33
0.613 0.37
0.616 0.30
0.619 0.34
0.622 0.29
0.625 0.32
0.628 0.36
0.631 0.30
0.634 0.33
0.637 0.28
0.640 0.32
0.643 0.34
0.646 0.29
0.505 0.53
0.512 0.57
0.518 0.50
0.523 0.55
0.531 0.51
0.536 0.57
0.542 0.49
0.549 0.54
0.555 0.50
0.560 0.56
0.566 0.48
0.572 0.53
0.578 0.47
0.585 0.51
0.591 0.46
0.597 0.49
0.603 0.44
0.609 0.47
0.615 0.42
0.622 0.45
0.628 0.41
0.634 0.44
0.641 0.40
0.647 0.42
0.653 0.38
0.660 0.41
0.667 0.37
0.674 0.40
0.681 0.36
0.688 0.38
0.652 0.26
0.658 0.30
0.664 0.27
0.670 0.33
0.676 0.26
0.682 0.31
0.688 0.29
0.694 0.27
0.700 0.31
0.706 0.26
0.712 0.30
0.718 0.28
0.724 0.32
0.730 0.26
0.736 0.29
0.742 0.31
0.748 0.26
0.754 0.28
0.760 0.32
0.766 0.25
0.772 0.30
0.778 0.28
0.784 0.31
0.790 0.25
0.796 0.29
0.802 0.27
0.808 0.30
0.814 0.25
0.820 0.29
0.826 0.27
0.832 0.30
0.838 0.26
0.844 0.28
0.850 0.30
0.856 0.25
0.862 0.28
0.868 0.29
0.874 0.26
0.880 0.27
0.886 0.29
0.892 0.25
0.898 0.28
0.904 0.27
0.910 0.29
0.916 0.26
0.922 0.28
0.928 0.25
0.934 0.28
0.940 0.27
0.946 0.29
0.952 0.25
0.958 0.28
0.964 0.27
0.970 0.28
0.976 0.25
0.982 0.27
0.988 0.28
0.994 0.26
1.002 0.28
1.010 0.27
1.018 0.28
1.026 0.26
1.034 0.28
1.042 0.27
1.050 0.28
1.058 0.26
1.066 0.28
1.074 0.27
1.082 0.28
1.090 0.27
1.098 0.28
1.104 0.27
}\pD
\begin{document}
\begin{tikzpicture}
\path[use as bounding box] (0,0) rectangle (600pt,1582.5pt);
\begin{axis}[ymode=log, at={(94.5pt,1271pt)}, anchor=south west, xlabel={\xlab}, ylabel={\ylab}, yticklabels={{10\raisebox{10.5pt}{\fontsize{12}{12}\selectfont -14}},{10\raisebox{10.5pt}{\fontsize{12}{12}\selectfont -13}}}]
\pdots{\envA}
\pdots{\envB}
\pdots{\pA}
\ttl{100 Myr}
\end{axis}
\begin{axis}[ymode=log, at={(94.5pt,866.5pt)}, anchor=south west, xlabel={\xlab}, ylabel={\ylab}, yticklabels={{10\raisebox{10.5pt}{\fontsize{12}{12}\selectfont -14}},{10\raisebox{10.5pt}{\fontsize{12}{12}\selectfont -13}}}]
\addplot[only marks, mark=*, mark size=2.05pt, color=dotgreen, restrict x to domain=0.39:0.752] table {\envA};
\addplot[only marks, mark=*, mark size=2.05pt, color=dotgreen, restrict x to domain=0.39:0.735] table {\envB};
\pdots{\pB}
\ttl{500 Myr}
\end{axis}
\begin{axis}[ymode=log, at={(94.5pt,462pt)}, anchor=south west, xlabel={\xlab}, ylabel={\ylab}, yticklabels={{10\raisebox{10.5pt}{\fontsize{12}{12}\selectfont -14}},{10\raisebox{10.5pt}{\fontsize{12}{12}\selectfont -13}}}]
\addplot[only marks, mark=*, mark size=2.05pt, color=dotgreen, restrict x to domain=0.39:0.616] table {\envA};
\addplot[only marks, mark=*, mark size=2.05pt, color=dotgreen, restrict x to domain=0.39:0.60] table {\envB};
\pdots{\pC}
\ttl{1000 Myr}
\end{axis}
\begin{axis}[ymode=log, at={(94.5pt,57.5pt)}, anchor=south west, xlabel={\xlab}, ylabel={\ylab}, yticklabels={{10\raisebox{10.5pt}{\fontsize{12}{12}\selectfont -14}},{10\raisebox{10.5pt}{\fontsize{12}{12}\selectfont -13}}}]
\pdots{\pD}
\ttl{2000 Myr}
\end{axis}
\end{tikzpicture}
\end{document}
